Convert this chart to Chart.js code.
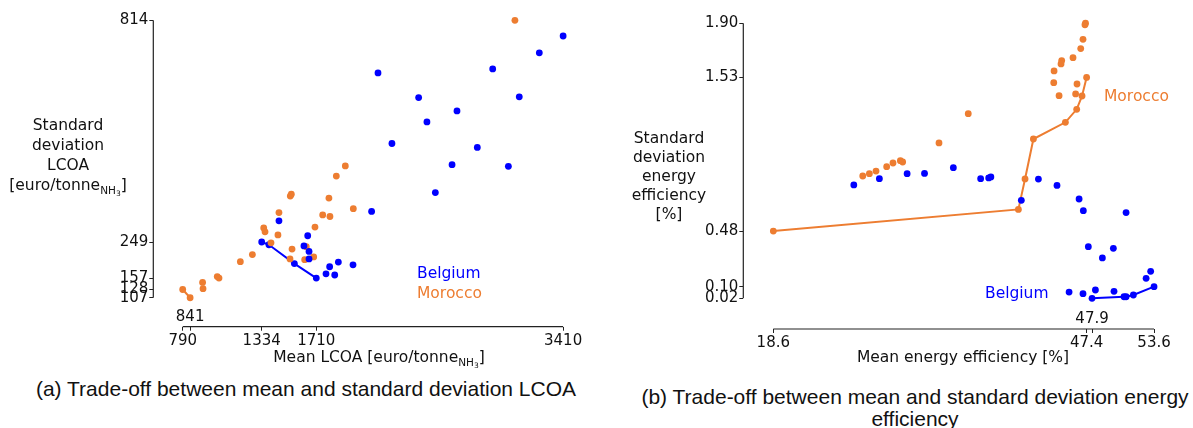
<!DOCTYPE html>
<html>
<head>
<meta charset="utf-8">
<script src="https://cdn.jsdelivr.net/npm/chart.js@4.4.1/dist/chart.umd.min.js"></script>
<style>
  body { margin: 0; background: #fff; }
  #page { position: relative; width: 1193px; height: 428px; overflow: hidden; font-family: "DejaVu Sans"; color: #111; }
  canvas { position: absolute; top: 0; }
  .t { position: absolute; font-size: 15.5px; text-align: center; white-space: nowrap; transform: translateX(-50%); }
  .sub { font-size: 10.5px; position: relative; top: 4px; }
  .sub2 { font-size: 7.5px; position: relative; top: 2px; }
  .note { position: absolute; font-size: 15.5px; white-space: nowrap; line-height: 20px; }
  .cap { position: absolute; font-family: "Liberation Sans"; font-size: 21px; line-height: 22px; text-align: center; white-space: nowrap; transform: translateX(-50%); color: #111; }
</style>
</head>
<body>
<div id="page">
  <canvas id="lcoaChart" width="590" height="365" style="left:0px"></canvas>
  <canvas id="effChart" width="596" height="365" style="left:597px"></canvas>

  <div class="t" style="left:68px; top:115px; line-height:20px;">Standard<br>deviation<br>LCOA<br>[euro/tonne<span class="sub">NH<span class="sub2">3</span></span>]</div>
  <div class="t" style="left:379px; top:347px; line-height:20px;">Mean LCOA [euro/tonne<span class="sub">NH<span class="sub2">3</span></span>]</div>
  <div class="note" style="left:417px; top:263px; color:#0000ff;">Belgium</div>
  <div class="note" style="left:417px; top:283px; color:#ed7d31;">Morocco</div>
  <div class="cap" style="left:306px; top:378px;">(a) Trade-off between mean and standard deviation LCOA</div>

  <div class="t" style="left:669px; top:129px; line-height:19px;">Standard<br>deviation<br>energy<br>efficiency<br>[%]</div>
  <div class="t" style="left:963px; top:347px; line-height:20px;">Mean energy efficiency [%]</div>
  <div class="note" style="left:1104px; top:86px; color:#ed7d31;">Morocco</div>
  <div class="note" style="left:985px; top:283px; color:#0000ff;">Belgium</div>
  <div class="cap" style="left:915px; top:386px;">(b) Trade-off between mean and standard deviation energy<br>efficiency</div>
</div>

<script>
// colours
const BLUE = "#0000ff";
const ORANGE = "#ed7d31";

// (a) LCOA: mean vs standard deviation [euro/tonne NH3]
const beMeanLcoa = [1453, 1651, 1625, 1660, 1660, 1802, 1862, 1777, 1837, 1963, 2091, 2135, 2415, 2679, 2472, 2231, 2819, 2645, 3033, 2530, 2925, 3108, 3246, 3410];
const beStdLcoa  = [303, 265, 239, 225, 206, 186, 198, 168, 165, 191, 327, 680, 617, 583, 555, 500, 490, 446, 442, 375, 690, 619, 731, 774];
const beFrontMeanLcoa = [1334, 1384, 1559, 1710];
const beFrontStdLcoa  = [249, 242, 194, 157];

const maMeanLcoa = [927, 930, 1028, 1040, 1187, 1270, 1348, 1357, 1398, 1453, 1446, 1531, 1538, 1543, 1529, 1630, 1641, 1692, 1701, 1754, 1804, 1797, 1848, 1910, 1965, 3078];
const maStdLcoa  = [146, 130, 161, 157, 199, 217, 285, 275, 247, 324, 267, 366, 371, 231, 206, 204, 237, 211, 287, 318, 314, 361, 417, 443, 334, 814];
const maFrontMeanLcoa = [790, 841];
const maFrontStdLcoa  = [128, 107];

const lcoaXTicks = [790, 841, 1334, 1710, 3410];
const lcoaXRaised = [841];
const lcoaYTicks = [107, 128, 157, 249, 814];

// (b) energy efficiency: mean vs standard deviation [%]
const beMeanEff = [26.0, 28.35, 30.9, 32.5, 35.15, 37.66, 38.4, 38.6, 41.4, 42.97, 44.68, 46.71, 47.1, 51.03, 47.56, 48.85, 49.86, 52.87, 53.29, 45.79, 47.07, 48.21, 49.92];
const beStdEff  = [0.795, 0.838, 0.872, 0.874, 0.913, 0.838, 0.843, 0.85, 0.69, 0.835, 0.792, 0.699, 0.619, 0.606, 0.373, 0.296, 0.362, 0.157, 0.205, 0.063, 0.052, 0.077, 0.068];
const beFrontMeanEff = [47.9, 50.84, 51.03, 51.7, 53.6];
const beFrontStdEff  = [0.02, 0.031, 0.031, 0.043, 0.10];

const maMeanEff = [26.82, 27.43, 28.04, 29.02, 29.6, 30.28, 30.49, 33.83, 36.52, 47.3, 47.25, 47.07, 46.86, 46.15, 45.11, 45.05, 44.41, 44.38, 46.52, 44.87, 46.39];
const maStdEff  = [0.856, 0.872, 0.89, 0.92, 0.945, 0.961, 0.952, 1.082, 1.282, 1.90, 1.89, 1.79, 1.727, 1.665, 1.645, 1.622, 1.574, 1.494, 1.485, 1.405, 1.417];
const maFrontMeanEff = [18.6, 41.13, 41.74, 42.51, 45.45, 46.49, 46.98, 47.4];
const maFrontStdEff  = [0.48, 0.628, 0.836, 1.109, 1.223, 1.312, 1.403, 1.53];

const effXTicks = [18.6, 47.4, 47.9, 53.6];
const effXRaised = [47.9];
const effYTicks = [0.02, 0.10, 0.48, 1.53, 1.90];

const toPts = (xs, ys) => xs.map((x, i) => ({ x: x, y: ys[i] }));

// trimmed axis lines + tick labels that sit above the x axis
const spinePlugin = {
  id: "spines",
  afterDraw(chart, args, opts) {
    const ctx = chart.ctx;
    const xs = chart.scales.x, ys = chart.scales.y;
    const area = chart.chartArea;
    const xv = xs.ticks.map(t => t.value), yv = ys.ticks.map(t => t.value);
    ctx.save();
    ctx.strokeStyle = "#222";
    ctx.lineWidth = 1.2;
    ctx.beginPath();
    ctx.moveTo(xs.getPixelForValue(Math.min(...xv)), area.bottom);
    ctx.lineTo(xs.getPixelForValue(Math.max(...xv)), area.bottom);
    ctx.moveTo(area.left, ys.getPixelForValue(Math.min(...yv)));
    ctx.lineTo(area.left, ys.getPixelForValue(Math.max(...yv)));
    ctx.stroke();
    ctx.fillStyle = "#111";
    ctx.font = "15px 'DejaVu Sans'";
    ctx.textAlign = "center";
    ctx.textBaseline = "alphabetic";
    opts.raised.forEach(v => {
      ctx.fillText(opts.fmt(v), xs.getPixelForValue(v), area.bottom - opts.lift);
    });
    ctx.restore();
  }
};

function makeChart(id, cfg) {
  const tickFont = { family: "DejaVu Sans", size: 15 };
  const grid = { drawOnChartArea: false, drawTicks: true, tickLength: 4, color: "#222", lineWidth: 1 };
  new Chart(document.getElementById(id).getContext("2d"), {
    type: "scatter",
    data: {
      datasets: [
        { data: cfg.be, backgroundColor: BLUE, borderWidth: 0, pointRadius: 3.4 },
        { data: cfg.ma, backgroundColor: ORANGE, borderWidth: 0, pointRadius: 3.4 },
        { data: cfg.beFront, showLine: true, borderColor: BLUE, borderWidth: 2, backgroundColor: BLUE, pointBackgroundColor: BLUE, pointBorderWidth: 0, pointRadius: 3.4 },
        { data: cfg.maFront, showLine: true, borderColor: ORANGE, borderWidth: 2, backgroundColor: ORANGE, pointBackgroundColor: ORANGE, pointBorderWidth: 0, pointRadius: 3.4 }
      ]
    },
    options: {
      responsive: false,
      animation: false,
      layout: { padding: cfg.padding },
      plugins: {
        legend: { display: false },
        tooltip: { enabled: false },
        spines: { raised: cfg.raised, fmt: cfg.fmtX, lift: cfg.lift }
      },
      scales: {
        x: {
          type: "linear", min: cfg.xMin, max: cfg.xMax,
          border: { display: false },
          grid: grid,
          afterBuildTicks: s => { s.ticks = cfg.xTicks.map(v => ({ value: v })); },
          afterFit: s => { s.height = 30; },
          ticks: {
            autoSkip: false, maxRotation: 0, padding: 1, color: "#111", font: tickFont,
            callback: v => cfg.raised.includes(v) ? "" : cfg.fmtX(v)
          }
        },
        y: {
          type: "linear", min: cfg.yMin, max: cfg.yMax,
          border: { display: false },
          grid: grid,
          afterBuildTicks: s => { s.ticks = cfg.yTicks.map(v => ({ value: v })); },
          afterFit: s => { s.width = 60; },
          ticks: { autoSkip: false, padding: 1, color: "#111", font: tickFont, callback: v => cfg.fmtY(v) }
        }
      }
    },
    plugins: [spinePlugin]
  });
}

makeChart("lcoaChart", {
  be: toPts(beMeanLcoa, beStdLcoa),
  ma: toPts(maMeanLcoa, maStdLcoa),
  beFront: toPts(beFrontMeanLcoa, beFrontStdLcoa),
  maFront: toPts(maFrontMeanLcoa, maFrontStdLcoa),
  xTicks: lcoaXTicks, yTicks: lcoaYTicks, raised: lcoaXRaised,
  xMin: 587.5, xMax: 3491.8, yMin: 33.2, yMax: 827.5,
  padding: { left: 93.3, top: 15, right: 15, bottom: 8.3 },
  fmtX: v => String(v), fmtY: v => String(v), lift: 5.5
});

makeChart("effChart", {
  be: toPts(beMeanEff, beStdEff),
  ma: toPts(maMeanEff, maStdEff),
  beFront: toPts(beFrontMeanEff, beFrontStdEff),
  maFront: toPts(maFrontMeanEff, maFrontStdEff),
  xTicks: effXTicks, yTicks: effYTicks, raised: effXRaised,
  xMin: 15.84, xMax: 56.63, yMin: -0.1895, yMax: 1.977,
  padding: { left: 86.3, top: 12, right: 6, bottom: 6 },
  fmtX: v => v.toFixed(1), fmtY: v => v.toFixed(2), lift: 6.5
});
</script>
</body>
</html>
